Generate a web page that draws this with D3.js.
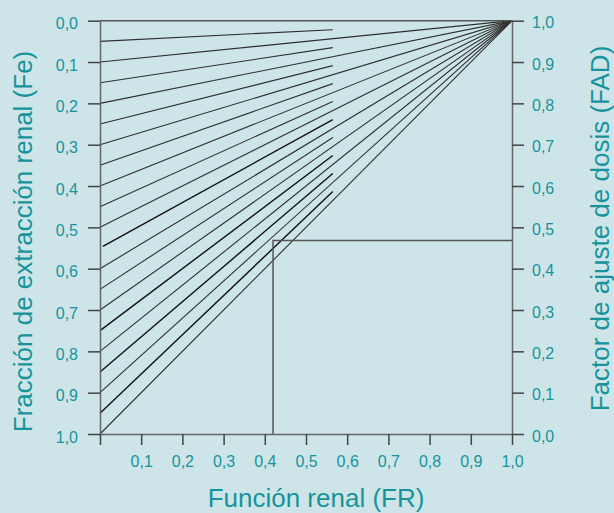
<!DOCTYPE html>
<html>
<head>
<meta charset="utf-8">
<script src="https://cdn.jsdelivr.net/npm/d3@7"></script>
<style>
    body { margin: 0; background: #cde4e8; }
    svg { display: block; font-family: "Liberation Sans", Arial, Helvetica, sans-serif; }
    .axis text { fill: #17949b; font-size: 16px; }
    .axis line { stroke: #444; stroke-width: 1.5; }
    .axis path { stroke: #666; stroke-width: 1.5; }
    .title { fill: #17949b; font-size: 26px; }
</style>
</head>
<body>
<div id="chart"></div>
<script>
// Fe values of lines that run to the corner (FR 1, FAD 1)
const feFull = [0.1, 0.2, 0.3, 0.4, 0.5, 0.6, 0.7, 0.8, 0.9, 1.0]
// Fe values of the lines that stop near FR 0.56
const feShort = [0.05, 0.15, 0.25, 0.35, 0.45, 0.55, 0.65, 0.75, 0.85, 0.95]
const shortEndFR = 0.565
// lines printed darker in the source
const feDark = [0.55, 0.75, 0.85, 0.95]
// worked example box
const exampleFR = 0.42
const exampleFAD = 0.468

const tickValues = [0, 0.1, 0.2, 0.3, 0.4, 0.5, 0.6, 0.7, 0.8, 0.9, 1.0]
const fmt = d => d3.format(".1f")(d).replace(".", ",")

const WIDTH = 614, HEIGHT = 513
const MARGIN = { LEFT: 100, RIGHT: 102, TOP: 20.7, BOTTOM: 79 }

const svg = d3.select("#chart").append("svg")
    .attr("width", WIDTH)
    .attr("height", HEIGHT)

const x = d3.scaleLinear().domain([0, 1]).range([MARGIN.LEFT, WIDTH - MARGIN.RIGHT])
const yFe = d3.scaleLinear().domain([0, 1]).range([MARGIN.TOP, HEIGHT - MARGIN.BOTTOM])
const yFad = d3.scaleLinear().domain([0, 1]).range([HEIGHT - MARGIN.BOTTOM, MARGIN.TOP])

// nomogram lines: FAD = 1 - Fe * (1 - FR)
const fad = (fe, fr) => 1 - fe * (1 - fr)
const line = d3.line().x(d => x(d[0])).y(d => yFad(d[1]))

const lines = []
feFull.forEach(fe => lines.push({ fe: fe, from: 0, to: 1 }))
feShort.forEach(fe => lines.push({ fe: fe, from: fe === 0.55 ? 0.007 : 0, to: shortEndFR }))

svg.append("g").selectAll("path")
    .data(lines)
    .enter().append("path")
    .attr("d", d => line([[d.from, fad(d.fe, d.from)], [d.to, fad(d.fe, d.to)]]))
    .attr("fill", "none")
    .attr("stroke", d => feDark.includes(d.fe) ? "#111" : "#2e2e2e")
    .attr("stroke-width", d => feDark.includes(d.fe) ? 1.4 : 1.1)

// Fe = 0 line along the top
svg.append("line")
    .attr("x1", x(0)).attr("x2", x(1))
    .attr("y1", yFe(0)).attr("y2", yFe(0))
    .attr("stroke", "#555").attr("stroke-width", 1.5)

// example box
svg.append("path")
    .attr("d", line([[exampleFR, 0], [exampleFR, exampleFAD], [1, exampleFAD]]))
    .attr("fill", "none")
    .attr("stroke", "#555")
    .attr("stroke-width", 1.5)

// Left axis (Fe)
const yAxisLeft = svg.append("g")
    .attr("class", "axis")
    .attr("transform", `translate(${x(0)}, 0)`)
    .call(d3.axisLeft(yFe).tickValues(tickValues).tickFormat(fmt)
        .tickSize(12).tickSizeOuter(0).tickPadding(10))
yAxisLeft.selectAll("text").attr("dy", "0.5em")

// Right axis (FAD)
const yAxisRight = svg.append("g")
    .attr("class", "axis")
    .attr("transform", `translate(${x(1)}, 0)`)
    .call(d3.axisRight(yFad).tickValues(tickValues).tickFormat(fmt)
        .tickSize(12).tickSizeOuter(0).tickPadding(8))
yAxisRight.selectAll("text").attr("dy", "0.45em")

// Bottom axis (FR)
const xAxis = svg.append("g")
    .attr("class", "axis")
    .attr("transform", `translate(0, ${yFe(1)})`)
    .call(d3.axisBottom(x).tickValues(tickValues).tickFormat(d => d === 0 ? "" : fmt(d))
        .tickSize(11).tickSizeOuter(0).tickPadding(11))

// Axis titles
svg.append("text")
    .attr("class", "title")
    .attr("x", 316)
    .attr("y", 507)
    .attr("text-anchor", "middle")
    .text("Función renal (FR)")

svg.append("text")
    .attr("class", "title")
    .attr("transform", "translate(32, 241.5) rotate(-90)")
    .attr("text-anchor", "middle")
    .text("Fracción de extracción renal (Fe)")

svg.append("text")
    .attr("class", "title")
    .attr("transform", "translate(609, 228.5) rotate(-90)")
    .attr("text-anchor", "middle")
    .text("Factor de ajuste de dosis (FAD)")
</script>
</body>
</html>
